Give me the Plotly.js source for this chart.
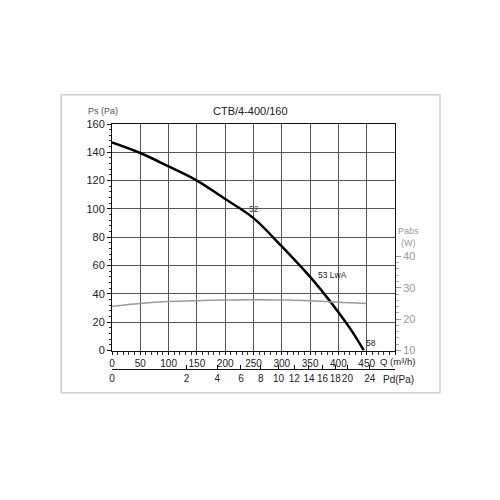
<!DOCTYPE html>
<html>
<head>
<meta charset="utf-8">
<script src="https://cdn.plot.ly/plotly-3.0.1.min.js"></script>
<style>
  html, body { margin: 0; padding: 0; background: #fff; }
  #chart { width: 500px; height: 500px; }
</style>
</head>
<body>
<div id="chart"></div>
<script>
// fan curve, Q in m3/h, Ps in Pa
var flowQ = [0, 50, 100, 150, 200, 250, 300, 350, 375, 400, 425, 445];
var pressPs = [147, 139.5, 130, 120, 107, 93.5, 73.5, 52, 40, 27, 13, 0];

// absorbed power, W (right axis)
var powerQ = [0, 50, 100, 150, 200, 250, 300, 350, 400, 450];
var powerW = [24.1, 25, 25.6, 25.9, 26.1, 26.2, 26.1, 25.9, 25.4, 25];

// dynamic pressure scale under the Q axis
var pdLabels = [0, 2, 4, 6, 8, 10, 12, 14, 16, 18, 20, 24];
var pdFactor = 93; // Q = pdFactor * sqrt(Pd)

var qTicks = [0, 50, 100, 150, 200, 250, 300, 350, 400, 450, 500];
var qText = ['0', '50', '100', '150', '200', '250', '300', '350', '400', '450', ''];

var pdPos = pdLabels.map(function (p) { return pdFactor * Math.sqrt(p); });
var pdText = pdLabels.map(String);

var traceCurve = {
    x: flowQ,
    y: pressPs,
    mode: 'lines',
    type: 'scatter',
    line: { color: '#000', width: 2.5, shape: 'spline' },
    hoverinfo: 'skip'
};
var tracePower = {
    x: powerQ,
    y: powerW,
    yaxis: 'y2',
    mode: 'lines',
    type: 'scatter',
    line: { color: '#9a9a9a', width: 1.5, shape: 'spline' },
    hoverinfo: 'skip'
};
// invisible trace so the Pd axis gets drawn
var tracePd = {
    x: [0, 500],
    y: [0, 0],
    xaxis: 'x2',
    mode: 'lines',
    type: 'scatter',
    line: { width: 0 },
    hoverinfo: 'skip'
};

var fnt = { family: 'Liberation Sans, Arial, sans-serif', size: 10, color: '#222' };

var layout = {
    width: 500,
    height: 500,
    showlegend: false,
    paper_bgcolor: '#fff',
    plot_bgcolor: '#fff',
    margin: { l: 112, r: 105, t: 124, b: 131 },
    font: fnt,
    xaxis: {
        range: [0, 500],
        tickvals: qTicks,
        ticktext: qText,
        tickangle: 0,
        showgrid: true,
        gridcolor: '#555',
        gridwidth: 1,
        showline: true,
        linecolor: '#111',
        linewidth: 1,
        mirror: true,
        ticks: 'outside',
        ticklen: 3,
        tickcolor: '#111',
        minor: { dtick: 10, ticks: 'outside', ticklen: 3, tickcolor: '#333', showgrid: false },
        zeroline: false,
        tickfont: fnt,
        anchor: 'y'
    },
    xaxis2: {
        range: [0, 500],
        overlaying: 'x',
        anchor: 'free',
        position: 0,
        side: 'bottom',
        tickvals: pdPos,
        ticktext: pdText,
        tickangle: 0,
        showgrid: false,
        showline: true,
        linecolor: '#111',
        linewidth: 1,
        ticks: 'inside',
        ticklen: 4,
        tickcolor: '#111',
        zeroline: false,
        tickfont: fnt
    },
    yaxis: {
        domain: [0.0754, 1],
        range: [0, 160],
        dtick: 20,
        showgrid: true,
        gridcolor: '#555',
        gridwidth: 1,
        showline: true,
        linecolor: '#111',
        linewidth: 1,
        mirror: true,
        ticks: 'outside',
        ticklen: 4,
        tickcolor: '#111',
        minor: { dtick: 4, ticks: 'outside', ticklen: 2, tickcolor: '#333', showgrid: false },
        zeroline: false,
        tickfont: { family: fnt.family, size: 11, color: '#222' },
        anchor: 'x'
    },
    yaxis2: {
        overlaying: 'y',
        side: 'right',
        anchor: 'x',
        range: [10, 82.2],
        tickvals: [10, 20, 30, 40],
        showgrid: false,
        showline: false,
        ticks: 'outside',
        ticklen: 5,
        tickcolor: '#999',
        minor: { tickvals: [12, 14, 16, 18, 22, 24, 26, 28, 32, 34, 36, 38], ticks: 'outside', ticklen: 3, tickcolor: '#aaa' },
        zeroline: false,
        tickfont: { family: fnt.family, size: 11, color: '#999' }
    },
    annotations: [
        { text: 'CTB/4-400/160', xref: 'paper', yref: 'paper', x: 0.49, y: 1.052, xanchor: 'center', yanchor: 'middle',
          showarrow: false, font: { family: fnt.family, size: 11, color: '#222' } },
        { text: 'Ps (Pa)', xref: 'paper', yref: 'paper', x: -0.033, y: 1.052, xanchor: 'center', yanchor: 'middle',
          showarrow: false, font: { family: fnt.family, size: 9, color: '#555' } },
        { text: 'Pabs<br>(W)', xref: 'paper', yref: 'paper', x: 1.048, y: 0.54, xanchor: 'center', yanchor: 'middle',
          showarrow: false, align: 'center', font: { family: fnt.family, size: 9, color: '#999' } },
        { text: 'Q (m³/h)', xref: 'paper', yref: 'paper', x: 1.008, y: 0.032, xanchor: 'center', yanchor: 'middle',
          showarrow: false, font: { family: fnt.family, size: 9.5, color: '#222' } },
        { text: 'Pd(Pa)', xref: 'paper', yref: 'paper', x: 1.011, y: -0.041, xanchor: 'center', yanchor: 'middle',
          showarrow: false, font: fnt },
        { text: '52', x: 250, y: 100, showarrow: false, font: { family: fnt.family, size: 8.5, color: '#444' } },
        { text: '53 LwA', x: 389, y: 53, showarrow: false, font: { family: fnt.family, size: 8.5, color: '#222' } },
        { text: '58', x: 457, y: 5.5, showarrow: false, font: { family: fnt.family, size: 8.5, color: '#222' } }
    ],
    shapes: [
        { type: 'rect', xref: 'paper', yref: 'paper', x0: -0.179, x1: 1.159, y0: -0.097, y1: 1.1195,
          line: { color: '#cfcfcf', width: 1.5 }, layer: 'below' }
    ]
};

Plotly.newPlot('chart', [traceCurve, tracePower, tracePd], layout, { staticPlot: true, displayModeBar: false });
</script>
</body>
</html>
